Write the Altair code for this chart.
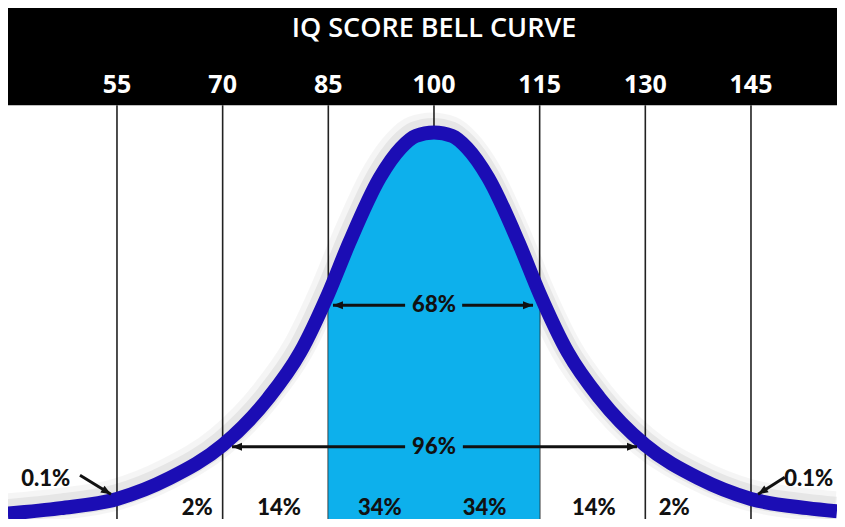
import altair as alt
import pandas as pd

# ---- data ----
iq_points = [39.5, 47, 55, 62.5, 70, 76.5, 81, 85, 88, 92.3, 95.3, 97.4, 100,
             102.6, 104.7, 107.7, 112, 115, 119, 123.5, 130, 137.5, 145, 153, 157.2]
density = [0.014, 0.028, 0.052, 0.106, 0.191, 0.313, 0.431, 0.583, 0.716, 0.883, 0.960, 0.991, 1.0,
           0.991, 0.960, 0.883, 0.716, 0.583, 0.431, 0.313, 0.191, 0.106, 0.052, 0.028, 0.020]

tick_values = [55, 70, 85, 100, 115, 130, 145]
tick_labels = ["55", "70", "85", "100", "115", "130", "145"]

band_labels = ["2%", "14%", "34%", "34%", "14%", "2%"]
band_label_x = [66.4, 78.0, 92.3, 107.2, 122.7, 134.1]

tail_labels = ["0.1%", "0.1%"]
tail_label_x = [44.9, 153.2]

span_labels = ["68%", "96%"]
span_from = [85.66, 71.33]
span_to = [114.06, 128.82]
span_gap_from = [95.9, 95.9]
span_gap_to = [104.0, 104.1]
span_y = [0.553, 0.187]

tail_arrow_from_x = [49.75, 149.8]
tail_arrow_from_y = [0.113, 0.108]
tail_arrow_to_x = [54.15, 146.0]
tail_arrow_to_y = [0.064, 0.064]
tail_arrow_angle = [31.5, 147.0]

title_text = "IQ SCORE BELL CURVE"

x_min, x_max = 39.53, 157.21
y_top = 1.3222
band_bottom = 1.0706
title_y = 1.246
tick_label_y = 1.103
bottom_label_y = 0.011
tail_label_y = 0.0865

W, H = 829, 511

xs = alt.Scale(domain=[x_min, x_max], nice=False, zero=False)
ys = alt.Scale(domain=[0, y_top], nice=False, zero=False)

curve = pd.DataFrame({"iq": iq_points, "d": density})

def X(f):
    return alt.X(f, scale=xs, axis=None)

def Y(f):
    return alt.Y(f, scale=ys, axis=None)

# header band
header = alt.Chart(pd.DataFrame({"x1": [x_min], "x2": [x_max], "y1": [band_bottom], "y2": [y_top]})).mark_rect(
    color="#000000"
).encode(x=X("x1:Q"), x2="x2:Q", y=Y("y1:Q"), y2="y2:Q")

title = alt.Chart(pd.DataFrame({"x": [100], "y": [title_y], "t": [title_text]})).mark_text(
    font="Open Sans", fontSize=27, fontWeight=600, color="white", baseline="alphabetic", align="center"
).encode(x=X("x:Q"), y=Y("y:Q"), text="t:N")

ticks_df = pd.DataFrame({"v": tick_values, "lab": tick_labels, "y0": 0.0, "y1": band_bottom, "ly": tick_label_y})
rules = alt.Chart(ticks_df).mark_rule(color="#222222", strokeWidth=1.6).encode(
    x=X("v:Q"), y=Y("y0:Q"), y2="y1:Q")
tick_text = alt.Chart(ticks_df).mark_text(
    font="Open Sans", fontSize=25, fontWeight=700, color="white", baseline="alphabetic", align="center"
).encode(x=X("v:Q"), y=Y("ly:Q"), text="lab:N")

base = alt.Chart(curve)
shadow1 = base.mark_line(interpolate="monotone", color="#000000", strokeWidth=32, opacity=0.04, yOffset=-4, xOffset=-2).encode(
    x=X("iq:Q"), y=Y("d:Q"))
shadow2 = base.mark_line(interpolate="monotone", color="#000000", strokeWidth=23, opacity=0.06, yOffset=-3, xOffset=-1).encode(
    x=X("iq:Q"), y=Y("d:Q"))
fill = base.transform_filter((alt.datum.iq >= 85) & (alt.datum.iq <= 115)).mark_area(
    interpolate="monotone", color="#0DB0EC", opacity=1).encode(x=X("iq:Q"), y=Y("d:Q"))
line = base.mark_line(interpolate="monotone", color="#1B0DB4", strokeWidth=14).encode(
    x=X("iq:Q"), y=Y("d:Q"))

bl = pd.DataFrame({"x": band_label_x, "t": band_labels, "y": bottom_label_y})
band_text = alt.Chart(bl).mark_text(
    font="Lato", fontSize=22, fontWeight=900, color="#111111", baseline="alphabetic", align="center"
).encode(x=X("x:Q"), y=Y("y:Q"), text="t:N")

tl = pd.DataFrame({"x": tail_label_x, "t": tail_labels, "y": tail_label_y})
tail_text = alt.Chart(tl).mark_text(
    font="Lato", fontSize=22, fontWeight=900, color="#111111", baseline="alphabetic", align="center"
).encode(x=X("x:Q"), y=Y("y:Q"), text="t:N")

sp = pd.DataFrame({"t": span_labels, "a": span_from, "b": span_to, "ga": span_gap_from, "gb": span_gap_to,
                   "y": span_y, "mid": [100, 100]})
span_text = alt.Chart(sp).mark_text(
    font="Lato", fontSize=22, fontWeight=900, color="#111111", baseline="middle", align="center"
).encode(x=X("mid:Q"), y=Y("y:Q"), text="t:N")
span_left = alt.Chart(sp).mark_rule(color="#111111", strokeWidth=3).encode(x=X("a:Q"), x2="ga:Q", y=Y("y:Q"))
span_right = alt.Chart(sp).mark_rule(color="#111111", strokeWidth=3).encode(x=X("gb:Q"), x2="b:Q", y=Y("y:Q"))

heads_df = pd.DataFrame({
    "x": span_from + span_to + tail_arrow_to_x,
    "y": span_y + span_y + tail_arrow_to_y,
    "ang": [180, 180, 0, 0] + tail_arrow_angle,
})
heads = alt.Chart(heads_df).mark_point(
    shape="M0,0L-2,-0.8L-2,0.8Z", filled=True, size=100, color="#111111", opacity=1
).encode(x=X("x:Q"), y=Y("y:Q"), angle=alt.Angle("ang:Q", scale=None))

ta = pd.DataFrame({"x1": tail_arrow_from_x, "y1": tail_arrow_from_y, "x2": tail_arrow_to_x, "y2": tail_arrow_to_y})
tail_arrows = alt.Chart(ta).mark_rule(color="#111111", strokeWidth=3).encode(
    x=X("x1:Q"), y=Y("y1:Q"), x2="x2:Q", y2="y2:Q")

chart = alt.layer(
    header, title, rules, tick_text, shadow1, shadow2, fill, line,
    span_left, span_right, tail_arrows, heads, span_text, band_text, tail_text
).properties(
    width=W, height=H, padding=0, background="white",
    autosize=alt.AutoSizeParams(type="none")
).configure_view(strokeWidth=0)

chart.save("out.html", embed_options={"renderer": "svg", "actions": False})
